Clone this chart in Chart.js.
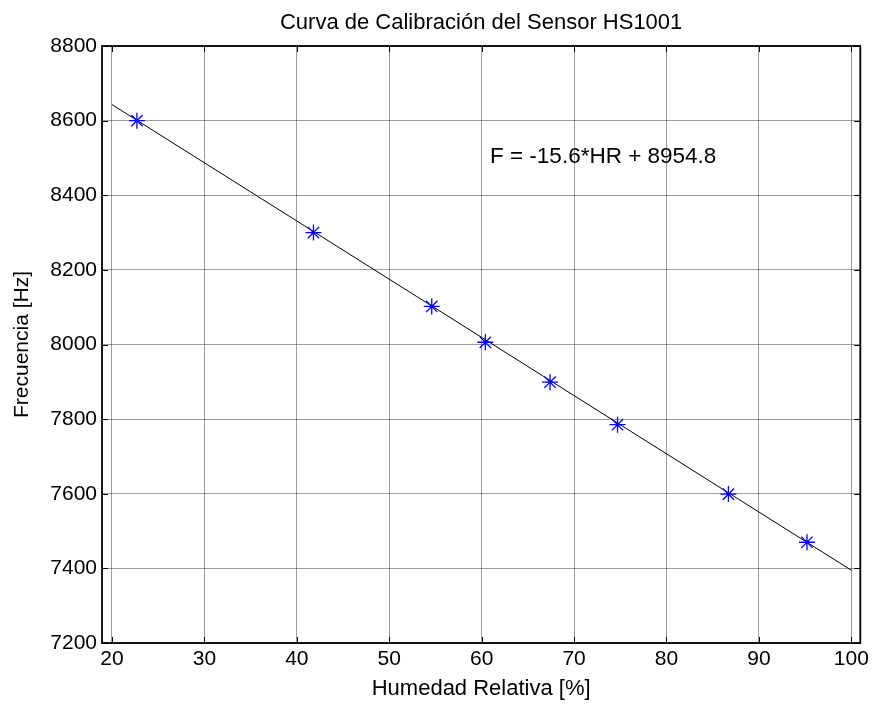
<!DOCTYPE html>
<html>
<head>
<meta charset="utf-8">
<script src="https://cdn.jsdelivr.net/npm/chart.js@4.4.0/dist/chart.umd.min.js"></script>
<style>
  html, body { margin: 0; padding: 0; background: #fff; }
</style>
</head>
<body>
<canvas id="grafico" width="873" height="706"></canvas>
<script>
const humedad = [22.7, 41.8, 54.6, 60.4, 67.4, 74.7, 86.7, 95.2];
const frecuencia = [8600, 8300, 8102, 8006, 7899, 7785, 7599, 7470];

// Recta de ajuste (extremos leídos)
const ajusteX = [20, 100];
const ajusteY = [8643, 7395];

// Etiquetas de los ejes
const ticksX = [20, 30, 40, 50, 60, 70, 80, 90, 100];
const ticksY = [7200, 7400, 7600, 7800, 8000, 8200, 8400, 8600, 8800];

const titulo = 'Curva de Calibración del Sensor HS1001';
const tituloX = 'Humedad Relativa [%]';
const tituloY = 'Frecuencia [Hz]';
const ecuacion = 'F = -15.6*HR + 8954.8';
const ecuacionPos = [60.9, 8502];

const fuente = "'Liberation Sans', Arial, sans-serif";

// Plugin: marco, marcas interiores y textos estilo MATLAB
const marcoMatlab = {
    id: 'marcoMatlab',
    afterDraw(chart) {
        const ctx = chart.ctx;
        const a = chart.chartArea;
        const sx = chart.scales.x, sy = chart.scales.y;
        ctx.save();
        // marcas interiores
        ctx.strokeStyle = '#000';
        ctx.lineWidth = 1;
        ctx.beginPath();
        ticksX.forEach(v => {
            const px = Math.round(sx.getPixelForValue(v)) + 0.5;
            ctx.moveTo(px, a.bottom); ctx.lineTo(px, a.bottom - 6);
            ctx.moveTo(px, a.top); ctx.lineTo(px, a.top + 6);
        });
        ticksY.forEach(v => {
            const py = Math.round(sy.getPixelForValue(v)) + 0.5;
            ctx.moveTo(a.left, py); ctx.lineTo(a.left + 6, py);
            ctx.moveTo(a.right, py); ctx.lineTo(a.right - 6, py);
        });
        ctx.stroke();
        // marco
        ctx.lineWidth = 1.8;
        ctx.strokeRect(a.left, a.top, a.right - a.left, a.bottom - a.top);

        // textos
        ctx.fillStyle = '#000';
        ctx.textAlign = 'center';
        ctx.textBaseline = 'middle';
        const cx = (a.left + a.right) / 2;
        ctx.font = '22px ' + fuente;
        ctx.fillText(titulo, cx, 23);
        ctx.fillText(tituloX, cx, 689);
        ctx.save();
        ctx.translate(22, (a.top + a.bottom) / 2);
        ctx.rotate(-Math.PI / 2);
        ctx.font = '21px ' + fuente;
        ctx.fillText(tituloY, 0, 0);
        ctx.restore();

        ctx.textAlign = 'left';
        ctx.font = '22.5px ' + fuente;
        ctx.fillText(ecuacion, sx.getPixelForValue(ecuacionPos[0]), sy.getPixelForValue(ecuacionPos[1]));
        ctx.restore();
    }
};

new Chart(document.getElementById('grafico').getContext('2d'), {
    type: 'scatter',
    data: {
        datasets: [
            {
                label: 'Ajuste',
                data: ajusteX.map((x, i) => ({ x: x, y: ajusteY[i] })),
                showLine: true,
                borderColor: '#000',
                borderWidth: 1,
                pointRadius: 0,
                order: 2
            },
            {
                label: 'Medidas',
                data: humedad.map((x, i) => ({ x: x, y: frecuencia[i] })),
                pointStyle: 'star',
                pointRadius: 8,
                borderColor: '#0000ff',
                backgroundColor: '#0000ff',
                pointBorderWidth: 1.3,
                order: 1
            }
        ]
    },
    options: {
        responsive: false,
        animation: false,
        layout: { padding: { top: 46, right: 12, left: 0, bottom: 0 } },
        plugins: {
            legend: { display: false },
            tooltip: { enabled: false }
        },
        scales: {
            x: {
                type: 'linear',
                min: 18.92,
                max: 100.97,
                afterBuildTicks: s => { s.ticks = ticksX.map(v => ({ value: v })); },
                afterFit: s => { s.height = 63; },
                ticks: {
                    color: '#000',
                    padding: 4,
                    maxRotation: 0,
                    autoSkip: false,
                    font: { family: fuente, size: 21 },
                    callback: v => String(v)
                },
                grid: { color: 'rgba(0,0,0,0.38)', lineWidth: 1, drawTicks: false },
                border: { display: false }
            },
            y: {
                type: 'linear',
                min: 7200,
                max: 8800,
                afterBuildTicks: s => { s.ticks = ticksY.map(v => ({ value: v })); },
                afterFit: s => { s.width = 102; },
                ticks: {
                    color: '#000',
                    padding: 5,
                    autoSkip: false,
                    font: { family: fuente, size: 21 },
                    callback: v => String(v)
                },
                grid: { color: 'rgba(0,0,0,0.38)', lineWidth: 1, drawTicks: false },
                border: { display: false }
            }
        }
    },
    plugins: [marcoMatlab]
});
</script>
</body>
</html>
